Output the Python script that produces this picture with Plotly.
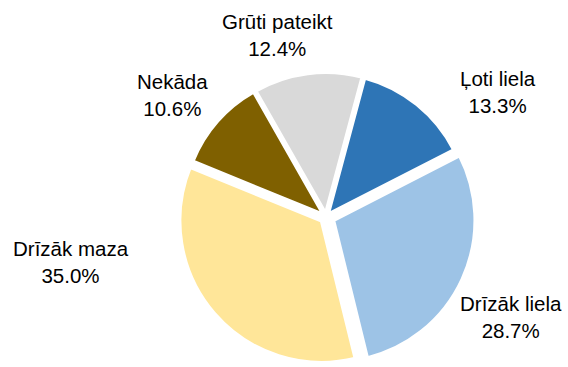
import plotly.graph_objects as go

# Survey answer shares (%)
labels = ["Ļoti liela", "Drīzāk liela", "Drīzāk maza", "Nekāda", "Grūti pateikt"]
values = [13.3, 28.7, 35.0, 10.6, 12.4]
colors = ["#2E75B6", "#9DC3E6", "#FFE699", "#7F6000", "#D9D9D9"]
explode = [0.018, 0.055, 0.04, 0.018, 0.018]

# Label anchor points in paper coordinates (x, y)
label_pos = [(0.877, 0.75), (0.90, 0.135), (0.125, 0.285), (0.304, 0.74), (0.488, 0.905)]

fig = go.Figure(
    go.Pie(
        labels=labels,
        values=values,
        sort=False,
        direction="clockwise",
        rotation=15,
        pull=explode,
        marker=dict(colors=colors, line=dict(color="white", width=4)),
        textinfo="none",
        hoverinfo="label+percent",
        showlegend=False,
        domain=dict(x=[0.309, 0.839], y=[0.0, 0.818]),
    )
)

annotations = []
for name, val, (ax, ay) in zip(labels, values, label_pos):
    annotations.append(
        dict(
            text=f"{name}<br>{val:.1f}%",
            x=ax,
            y=ay,
            xref="paper",
            yref="paper",
            showarrow=False,
            align="center",
            xanchor="center",
            yanchor="middle",
            font=dict(family="Liberation Sans, Arial, sans-serif", size=20.5, color="#000000"),
        )
    )

fig.update_layout(
    width=568,
    height=367,
    margin=dict(l=0, r=0, t=0, b=0),
    paper_bgcolor="white",
    plot_bgcolor="white",
    annotations=annotations,
)

fig.write_html("out.html")
